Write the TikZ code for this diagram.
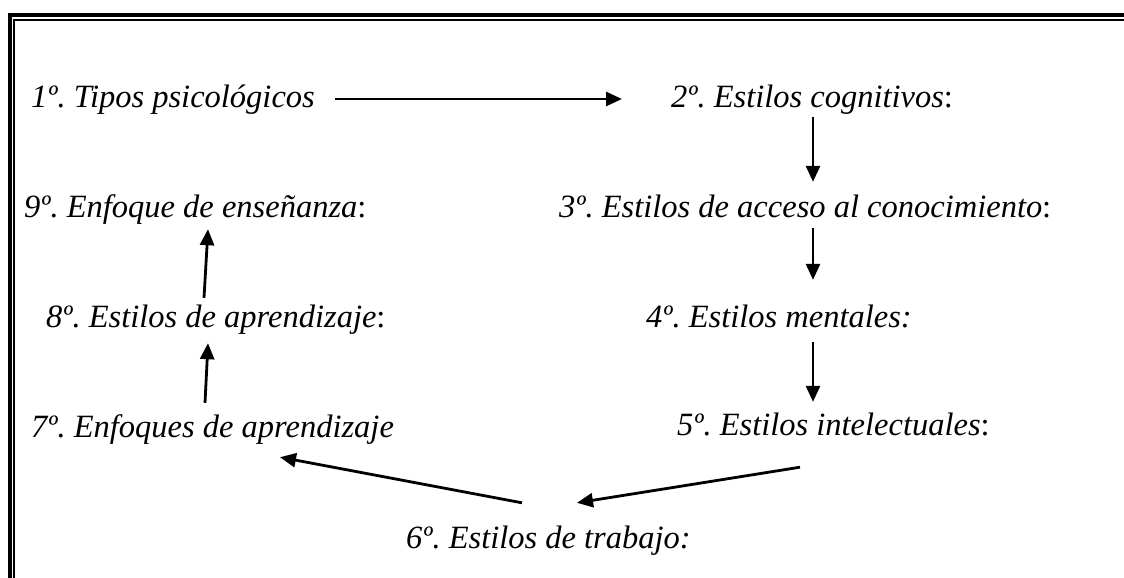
\documentclass[tikz,border=0pt]{standalone}
\usepackage{fontspec}
\setmainfont{Liberation Serif}
\frenchspacing
\usetikzlibrary{arrows.meta,calc}
\tikzset{
  txt/.style={anchor=base west, inner sep=0pt, text height=24pt, text depth=8pt,
    font=\fontsize{32.5}{38}\selectfont\itshape},
  arr/.style={line width=2.8pt, -{Triangle[length=16pt,width=14pt]}},
  frameout/.style={line width=4pt},
  framein/.style={line width=1.8pt}
}
\begin{document}
\begin{tikzpicture}[x=1pt,y=-1pt]
\useasboundingbox (0,0) rectangle (1124,578);
\clip (0,0) rectangle (1124,578);
\fill[white] (0,0) rectangle (1124,578);
\draw[frameout] (10,15) rectangle (1300,800);
\draw[framein] (14.3,20) rectangle (1300,800);

\node[txt] (n1) at (31,107) {1º. Tipos psicológicos};
\node[txt] (n2) at (671,107) {2º. Estilos cognitivos{\upshape:}};
\node[txt] (n9) at (24,217) {9º. Enfoque de enseñanza{\upshape:}};
\node[txt] (n3) at (559,217) {3º. Estilos de acceso al conocimiento{\upshape:}};
\node[txt] (n8) at (46,327) {8º. Estilos de aprendizaje{\upshape:}};
\node[txt] (n4) at (646,327) {4º. Estilos mentales:};
\node[txt] (n7) at (31,437) {7º. Enfoques de aprendizaje};
\node[txt] (n5) at (677,435) {5º. Estilos intelectuales{\upshape:}};
\node[txt] (n6) at (406,548) {6º. Estilos de trabajo:};

\draw[arr] ($(n1.west)+(304,0)$) -- ($(n2.west)+(-49,0)$);
\draw[arr] ($(n2.south west)+(142,2)$) -- ($(n3.north west)+(254,-11)$);
\draw[arr] ($(n3.south west)+(254,3)$) -- ($(n4.north west)+(167,-23)$);
\draw[arr] ($(n4.south west)+(167,7)$) -- ($(n5.north west)+(136,-9)$);
\draw[arr] ($(n5.south west)+(123,24)$) -- ($(n6.north west)+(171,-21)$);
\draw[arr] ($(n6.north west)+(116,-21)$) -- ($(n7.south west)+(249,12)$);
\draw[arr] ($(n7.north west)+(174,-10)$) -- ($(n8.south west)+(162,8)$);
\draw[arr] ($(n8.north west)+(158,-5)$) -- ($(n9.south west)+(184,4)$);
\end{tikzpicture}
\end{document}
